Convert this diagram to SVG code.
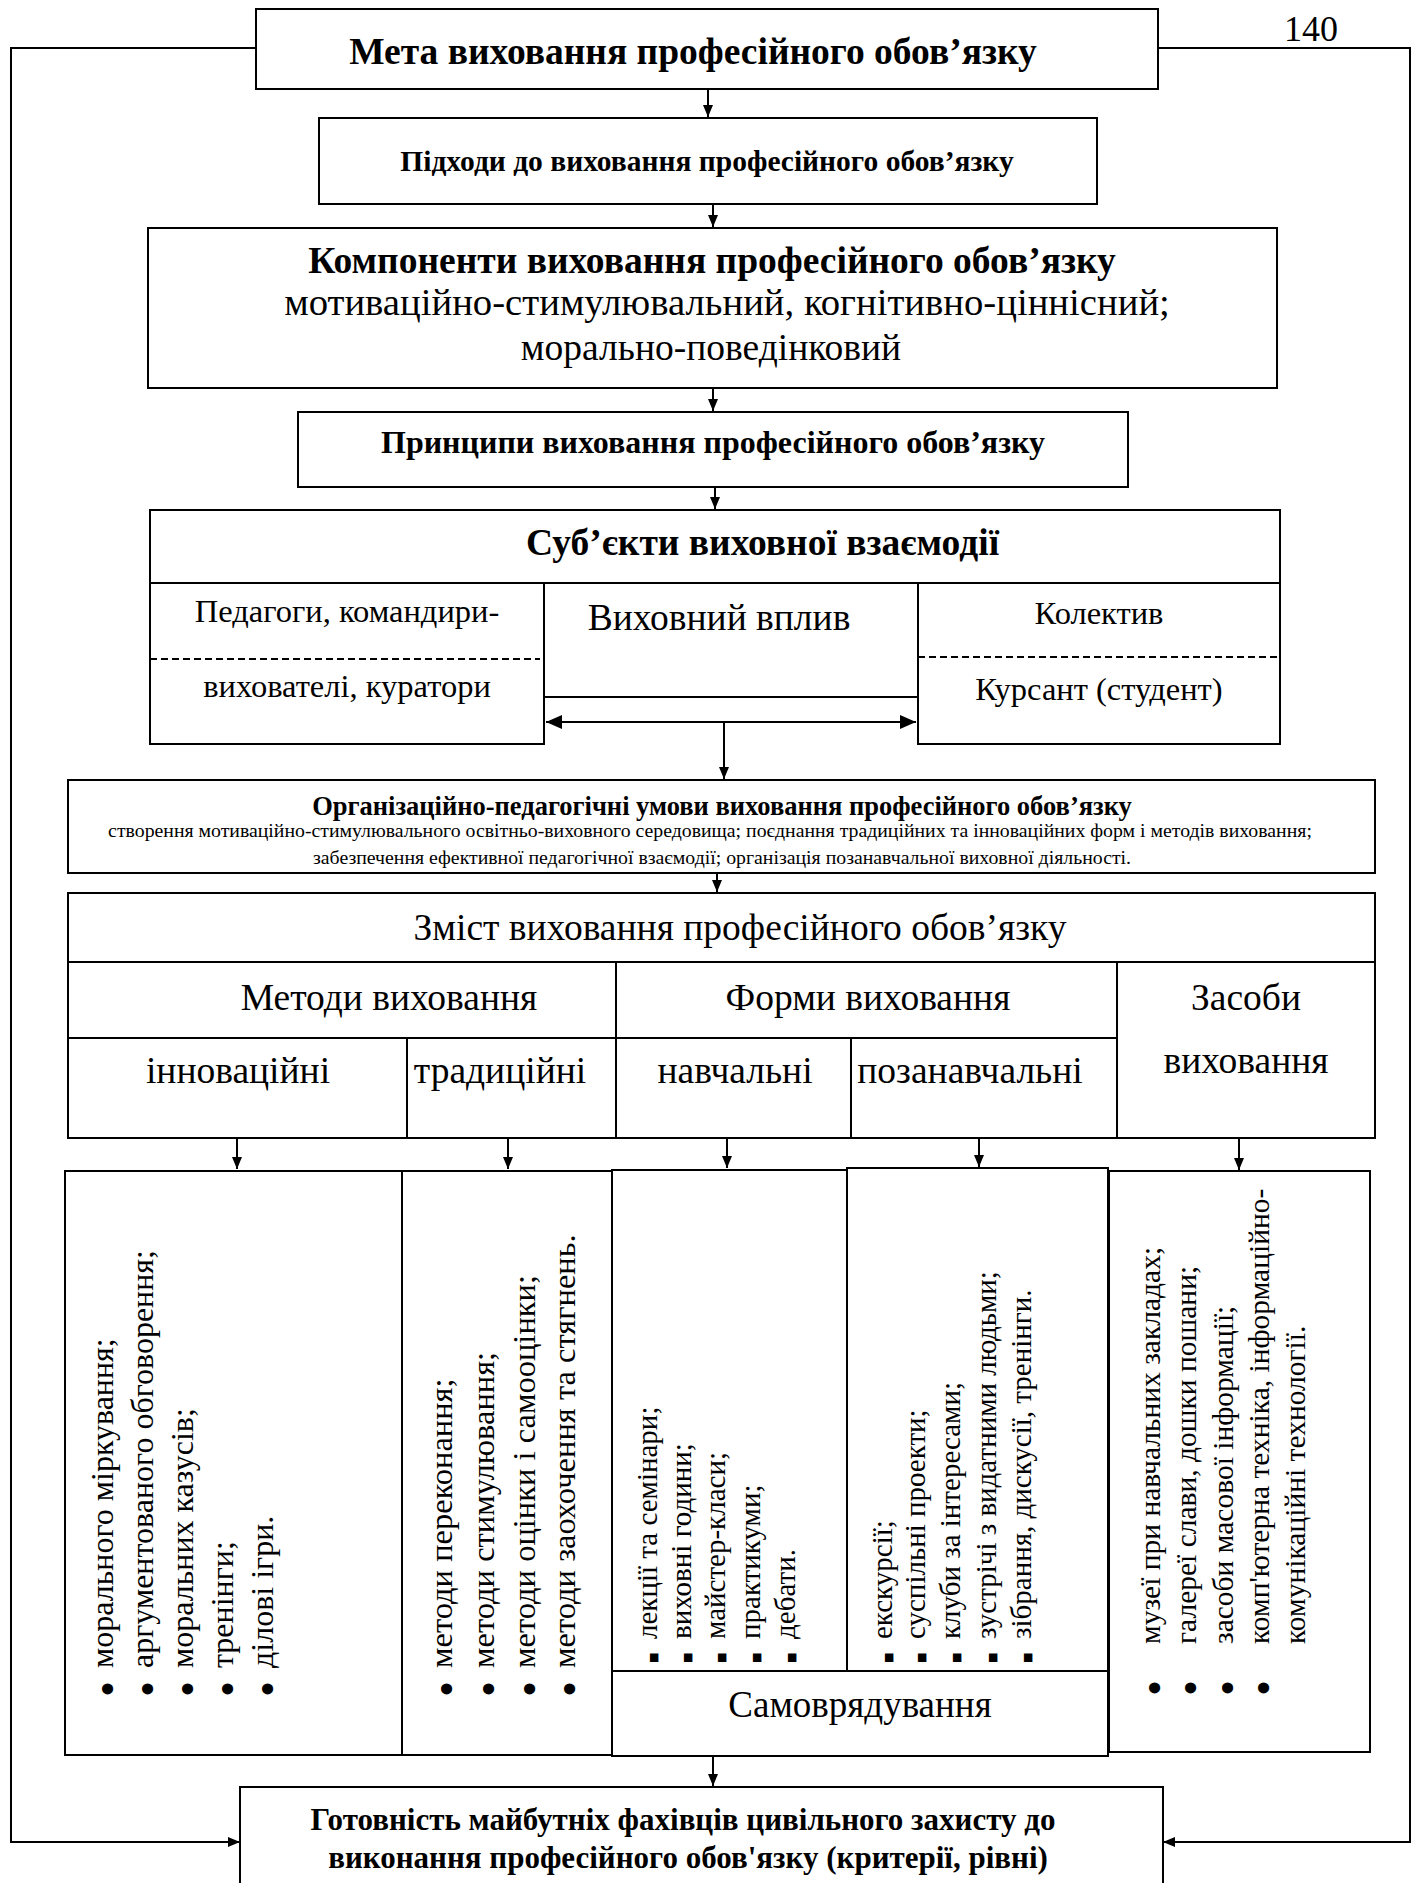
<svg xmlns="http://www.w3.org/2000/svg" width="1415" height="1883" viewBox="0 0 1415 1883">
<style>
.bx{fill:#fff;stroke:#000;stroke-width:2}
.ln{fill:none;stroke:#000;stroke-width:2}
.dl{fill:none;stroke:#000;stroke-width:2;stroke-dasharray:7 4}
.t{font-family:"Liberation Serif","Times New Roman",serif;fill:#000}
.b{font-weight:bold}
.m{text-anchor:middle}
.dot{font-size:46px}
.sq{font-family:"DejaVu Sans",sans-serif;font-size:11px}
</style>
<defs>
<marker id="ah" viewBox="0 0 12 10" refX="12" refY="5" markerWidth="12" markerHeight="10" markerUnits="userSpaceOnUse" orient="auto"><path d="M0,0 L12,5 L0,10 z" fill="#000"/></marker>
<marker id="ah2" viewBox="0 0 16 14" refX="16" refY="7" markerWidth="16" markerHeight="14" markerUnits="userSpaceOnUse" orient="auto-start-reverse"><path d="M0,0 L16,7 L0,14 z" fill="#000"/></marker>
</defs>
<rect width="1415" height="1883" fill="#fff"/>

<text class="t" x="1284" y="41" font-size="36">140</text>

<g id="connectors">
<path class="ln" d="M256,48 H11 V1842 H240" stroke-width="2.5" marker-end="url(#ah)"/>
<path class="ln" d="M1158,48 H1410 V1842 H1163" stroke-width="2.5" marker-end="url(#ah)"/>
<path class="ln" d="M708,89 V117" marker-end="url(#ah)"/>
<path class="ln" d="M713,204 V227" marker-end="url(#ah)"/>
<path class="ln" d="M713,388 V411" marker-end="url(#ah)"/>
<path class="ln" d="M715,487 V509" marker-end="url(#ah)"/>
<path class="ln" d="M546,722 H916" stroke-width="3" marker-start="url(#ah2)" marker-end="url(#ah2)"/>
<path class="ln" d="M724,722 V779" marker-end="url(#ah)"/>
<path class="ln" d="M717,873 V892" marker-end="url(#ah)"/>
<path class="ln" d="M237,1138 V1169" marker-end="url(#ah)"/>
<path class="ln" d="M508,1138 V1169" marker-end="url(#ah)"/>
<path class="ln" d="M727,1138 V1168" marker-end="url(#ah)"/>
<path class="ln" d="M979,1138 V1167" marker-end="url(#ah)"/>
<path class="ln" d="M1239,1138 V1170" marker-end="url(#ah)"/>
<path class="ln" d="M713,1756 V1786" marker-end="url(#ah)"/>
</g>

<g id="meta">
<rect class="bx" x="256" y="9" width="902" height="80"/>
<text class="t b m" x="693" y="64" font-size="37.5">Мета виховання професійного обов’язку</text>
</g>

<g id="pidkhody">
<rect class="bx" x="319" y="118" width="778" height="86"/>
<text class="t b m" x="707" y="171" font-size="29.5">Підходи до виховання професійного обов’язку</text>
</g>

<g id="komponenty">
<rect class="bx" x="148" y="228" width="1129" height="160"/>
<text class="t b m" x="712" y="273" font-size="37.5">Компоненти виховання професійного обов’язку</text>
<text class="t m" x="727" y="315" font-size="38.7">мотиваційно-стимулювальний, когнітивно-ціннісний;</text>
<text class="t m" x="711" y="360" font-size="37.5">морально-поведінковий</text>
</g>

<g id="pryntsypy">
<rect class="bx" x="298" y="412" width="830" height="75"/>
<text class="t b m" x="713" y="453" font-size="32">Принципи виховання професійного обов’язку</text>
</g>

<g id="subiekty">
<rect class="bx" x="150" y="510" width="1130" height="73"/>
<text class="t b" x="526" y="555" font-size="37.5">Суб’єкти виховної взаємодії</text>
</g>

<g id="pedagogy">
<rect class="bx" x="150" y="583" width="394" height="161"/>
<path class="dl" d="M150,659 H540"/>
<text class="t m" x="347" y="622" font-size="32.5">Педагоги, командири-</text>
<text class="t m" x="347" y="697" font-size="32.5">вихователі, куратори</text>
</g>

<g id="vplyv">
<path class="ln" d="M544,697 H918"/>
<text class="t m" x="719" y="630" font-size="37.5">Виховний вплив</text>
</g>

<g id="kolektyv">
<rect class="bx" x="918" y="583" width="362" height="161"/>
<path class="dl" d="M918,657 H1280"/>
<text class="t m" x="1099" y="624" font-size="32.5">Колектив</text>
<text class="t m" x="1099" y="700" font-size="32.5">Курсант (студент)</text>
</g>

<g id="umovy">
<rect class="bx" x="68" y="780" width="1307" height="93"/>
<text class="t b m" x="722" y="815" font-size="26.5">Організаційно-педагогічні умови виховання професійного обов’язку</text>
<text class="t m" x="710" y="837" font-size="19.8">створення мотиваційно-стимулювального освітньо-виховного середовища; поєднання традиційних та інноваційних форм і методів виховання;</text>
<text class="t m" x="722" y="864" font-size="19.8">забезпечення ефективної педагогічної взаємодії; організація позанавчальної виховної діяльності.</text>
</g>

<g id="zmist">
<rect class="bx" x="68" y="893" width="1307" height="69"/>
<text class="t m" x="740" y="940" font-size="37.5">Зміст виховання професійного обов’язку</text>
</g>

<g id="table">
<rect class="bx" x="68" y="962" width="1307" height="176"/>
<path class="ln" d="M68,1038 H1117 M616,962 V1138 M1117,962 V1138 M407,1038 V1138 M851,1038 V1138"/>
<text class="t m" x="389" y="1010" font-size="37.5">Методи виховання</text>
<text class="t m" x="868" y="1010" font-size="37.5">Форми виховання</text>
<text class="t m" x="1246" y="1010" font-size="37.5">Засоби</text>
<text class="t m" x="1246" y="1073" font-size="37.5">виховання</text>
<text class="t m" x="238" y="1083" font-size="37.5">інноваційні</text>
<text class="t m" x="500" y="1083" font-size="37.5">традиційні</text>
<text class="t m" x="735" y="1083" font-size="37.5">навчальні</text>
<text class="t m" x="970" y="1083" font-size="37.5">позанавчальні</text>
</g>

<g id="innovatsiini">
<rect class="bx" x="65" y="1171" width="337" height="584"/>
<g class="t" font-size="32">
<text transform="translate(113,1697) rotate(-90)"><tspan class="dot" dy="10">•</tspan><tspan x="29" dy="-10">морального міркування;</tspan></text>
<text transform="translate(153,1697) rotate(-90)"><tspan class="dot" dy="10">•</tspan><tspan x="29" dy="-10">аргументованого обговорення;</tspan></text>
<text transform="translate(193,1697) rotate(-90)"><tspan class="dot" dy="10">•</tspan><tspan x="29" dy="-10">моральних казусів;</tspan></text>
<text transform="translate(233,1697) rotate(-90)"><tspan class="dot" dy="10">•</tspan><tspan x="29" dy="-10">тренінги;</tspan></text>
<text transform="translate(273,1697) rotate(-90)"><tspan class="dot" dy="10">•</tspan><tspan x="29" dy="-10">ділові ігри.</tspan></text>
</g>
</g>

<g id="tradytsiini">
<rect class="bx" x="402" y="1171" width="210" height="584"/>
<g class="t" font-size="32.5">
<text transform="translate(452,1697) rotate(-90)"><tspan class="dot" dy="10">•</tspan><tspan x="29" dy="-10">методи переконання;</tspan></text>
<text transform="translate(494,1697) rotate(-90)"><tspan class="dot" dy="10">•</tspan><tspan x="29" dy="-10">методи стимулювання;</tspan></text>
<text transform="translate(535,1697) rotate(-90)"><tspan class="dot" dy="10">•</tspan><tspan x="29" dy="-10">методи оцінки і самооцінки;</tspan></text>
<text transform="translate(575,1697) rotate(-90)"><tspan class="dot" dy="10">•</tspan><tspan x="29" dy="-10">методи заохочення та стягнень.</tspan></text>
</g>
</g>

<g id="navchalni">
<rect class="bx" x="612" y="1170" width="235" height="501"/>
<g class="t" font-size="29">
<text transform="translate(657,1663) rotate(-90)"><tspan class="sq">■</tspan><tspan x="24">лекції та семінари;</tspan></text>
<text transform="translate(691,1663) rotate(-90)"><tspan class="sq">■</tspan><tspan x="24">виховні години;</tspan></text>
<text transform="translate(725,1663) rotate(-90)"><tspan class="sq">■</tspan><tspan x="24">майстер-класи;</tspan></text>
<text transform="translate(760,1663) rotate(-90)"><tspan class="sq">■</tspan><tspan x="24">практикуми;</tspan></text>
<text transform="translate(795,1663) rotate(-90)"><tspan class="sq">■</tspan><tspan x="24">дебати.</tspan></text>
</g>
</g>

<g id="pozanavchalni">
<rect class="bx" x="847" y="1168" width="261" height="503"/>
<g class="t" font-size="29">
<text transform="translate(892,1663) rotate(-90)"><tspan class="sq">■</tspan><tspan x="24">екскурсії;</tspan></text>
<text transform="translate(925,1663) rotate(-90)"><tspan class="sq">■</tspan><tspan x="24">суспільні проекти;</tspan></text>
<text transform="translate(960,1663) rotate(-90)"><tspan class="sq">■</tspan><tspan x="24">клуби за інтересами;</tspan></text>
<text transform="translate(996,1663) rotate(-90)"><tspan class="sq">■</tspan><tspan x="24">зустрічі з видатними людьми;</tspan></text>
<text transform="translate(1031,1663) rotate(-90)"><tspan class="sq">■</tspan><tspan x="24">зібрання, дискусії, тренінги.</tspan></text>
</g>
</g>

<g id="samovriaduvannia">
<rect class="bx" x="612" y="1671" width="496" height="85"/>
<text class="t m" x="860" y="1717" font-size="37">Самоврядування</text>
</g>

<g id="zasoby">
<rect class="bx" x="1109" y="1171" width="261" height="581"/>
<g class="t" font-size="29.5">
<text transform="translate(1160,1696) rotate(-90)"><tspan class="dot" dy="10">•</tspan><tspan x="52" dy="-10">музеї при навчальних закладах;</tspan></text>
<text transform="translate(1196,1696) rotate(-90)"><tspan class="dot" dy="10">•</tspan><tspan x="52" dy="-10">галереї слави, дошки пошани;</tspan></text>
<text transform="translate(1233,1696) rotate(-90)"><tspan class="dot" dy="10">•</tspan><tspan x="52" dy="-10">засоби масової інформації;</tspan></text>
<text transform="translate(1269,1696) rotate(-90)"><tspan class="dot" dy="10">•</tspan><tspan x="52" dy="-10">комп'ютерна техніка, інформаційно-</tspan></text>
<text transform="translate(1305,1644) rotate(-90)">комунікаційні технології.</text>
</g>
</g>

<g id="gotovnist">
<rect class="bx" x="240" y="1787" width="923" height="110"/>
<text class="t b m" x="683" y="1830" font-size="31">Готовність майбутніх фахівців цивільного захисту до</text>
<text class="t b m" x="688" y="1868" font-size="31">виконання професійного обов'язку (критерії, рівні)</text>
</g>
</svg>
